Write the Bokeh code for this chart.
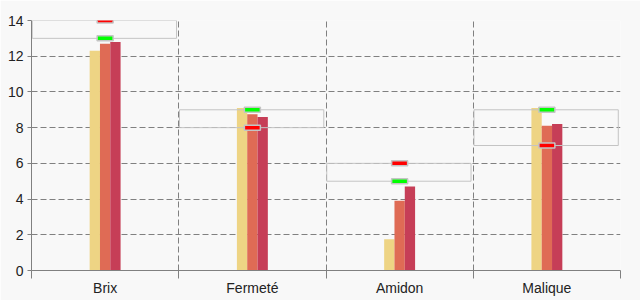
from bokeh.plotting import figure
from bokeh.models import Range1d, FixedTicker
from bokeh.embed import file_html
from bokeh.resources import INLINE

categories = ["Brix", "Fermeté", "Amidon", "Malique"]
serie_a = [12.3, 9.1, 1.75, 9.1]
serie_b = [12.7, 8.75, 3.9, 8.1]
serie_c = [12.8, 8.6, 4.7, 8.2]
green_marks = [13, 9, 5, 9]
red_marks = [14, 8, 6, 7]
y_ticks = [0, 2, 4, 6, 8, 10, 12, 14]

colors = ["#eed484", "#df6b55", "#c63e57"]
centers = [i + 0.5 for i in range(len(categories))]
offset = 0.07
bw = 0.07

p = figure(width=640, height=300, output_backend="svg", toolbar_location=None,
           x_range=Range1d(0, len(categories)), y_range=Range1d(0, 14),
           min_border_left=31, min_border_right=20, min_border_top=20, min_border_bottom=30)
p.background_fill_color = "#f8f8f8"
p.border_fill_color = "#f8f8f8"
p.outline_line_color = None

for k, (vals, col) in enumerate(zip([serie_a, serie_b, serie_c], colors)):
    xs = [c + (k - 1) * offset for c in centers]
    p.vbar(x=xs, top=vals, width=bw, bottom=0, color=col, line_color=None)

lo = [min(a, b) for a, b in zip(green_marks, red_marks)]
hi = [max(a, b) for a, b in zip(green_marks, red_marks)]
p.quad(left=[i + 0.005 for i in range(len(categories))],
       right=[i + 0.985 for i in range(len(categories))],
       bottom=lo, top=hi, fill_color=None, line_color="#c4c4c4", line_width=1)

p.rect(x=centers, y=green_marks, width=16, height=5, width_units="screen", height_units="screen",
       fill_color="#00ff00", line_color="#c4c4c4", line_width=1.5)
p.rect(x=centers, y=red_marks, width=16, height=5, width_units="screen", height_units="screen",
       fill_color="#ff0000", line_color="#c4c4c4", line_width=1.5)

# axes
xa = p.xaxis[0]
xa.ticker = FixedTicker(ticks=centers, minor_ticks=list(range(len(categories) + 1)))
xa.major_label_overrides = {c: n for c, n in zip(centers, categories)}
xa.major_tick_line_color = None
xa.major_tick_out = 0
xa.major_tick_in = 0
xa.minor_tick_out = 8
xa.minor_tick_in = 0
xa.minor_tick_line_color = "#808080"
xa.axis_line_color = "#808080"
xa.major_label_standoff = 1
xa.major_label_text_font = "Liberation Sans"
xa.major_label_text_font_size = "14px"
xa.major_label_text_color = "#222222"

ya = p.yaxis[0]
ya.ticker = FixedTicker(ticks=y_ticks)
ya.minor_tick_line_color = None
ya.major_tick_out = 4
ya.major_tick_in = 0
ya.major_tick_line_color = "#808080"
ya.axis_line_color = "#808080"
ya.major_label_standoff = 4
ya.major_label_text_font = "Liberation Sans"
ya.major_label_text_font_size = "14px"
ya.major_label_text_color = "#222222"

p.xgrid.ticker = FixedTicker(ticks=list(range(1, len(categories) + 1)))
p.xgrid.grid_line_color = "#808080"
p.xgrid.grid_line_dash = "6 3"
p.ygrid.ticker = FixedTicker(ticks=y_ticks[1:])
p.ygrid.grid_line_color = "#808080"
p.ygrid.grid_line_dash = "6 3"

open("out.html", "w").write(file_html(p, INLINE))
